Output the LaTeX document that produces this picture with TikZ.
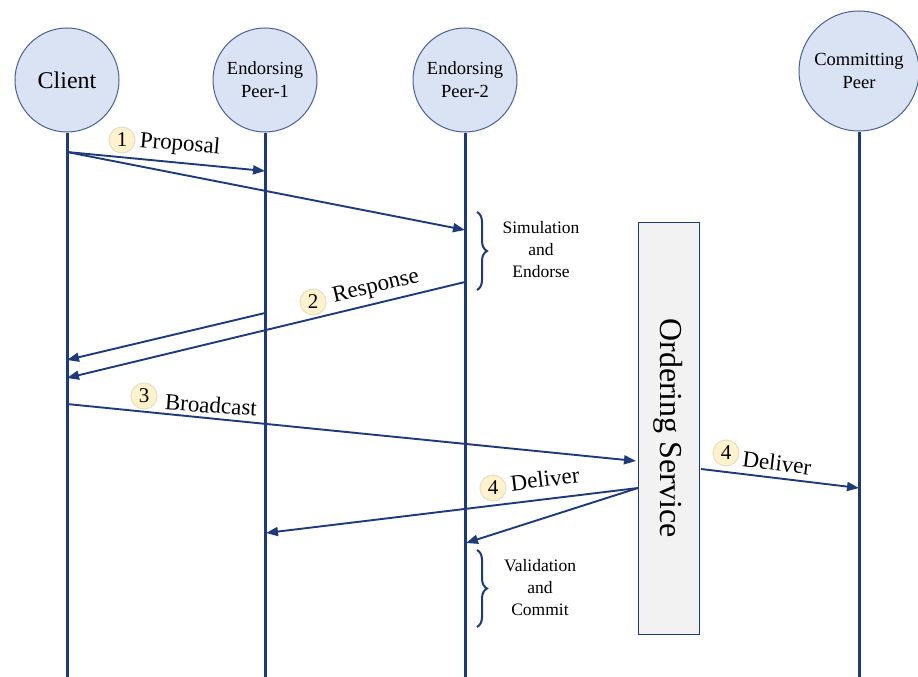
\documentclass[tikz,border=0pt]{standalone}
\usepackage{fontspec}
\setmainfont{Liberation Serif}
\usetikzlibrary{arrows.meta, decorations.pathreplacing}
\definecolor{navy}{HTML}{1F3A78}
\definecolor{actorfill}{HTML}{DAE3F3}
\definecolor{actorline}{HTML}{4A6090}
\definecolor{badgefill}{HTML}{FFF2CC}
\definecolor{badgeline}{HTML}{E6DDC4}
\definecolor{boxfill}{HTML}{F2F2F2}

\begin{document}
\begin{tikzpicture}[x=1pt,y=-1pt,
  actor/.style={circle,draw=actorline,fill=actorfill,line width=1pt,minimum size=104pt,inner sep=0pt,align=center},
  life/.style={navy,line width=3pt},
  msg/.style={navy,line width=1.9pt,-{Triangle[length=12pt,width=9pt]}},
  badge/.style={circle,fill=badgefill,draw=badgeline,line width=1pt,minimum size=26pt,inner sep=0pt,font=\fontsize{21}{21}\selectfont},
  lbl/.style={inner sep=0pt,font=\fontsize{23}{23}\selectfont},
  bracket/.style={navy,line width=2pt,decorate,decoration={brace,amplitude=10pt}},
  note/.style={align=center,font=\fontsize{17.5}{22}\selectfont}]
  \useasboundingbox (0,0) rectangle (918,677);

  % actors
  \node[actor,font=\fontsize{24}{24}\selectfont] (client) at (67,80) {Client};
  \node[actor,font=\fontsize{18.5}{23}\selectfont] (peerA) at (265,80) {Endorsing\\Peer-1};
  \node[actor,font=\fontsize{18.5}{23}\selectfont] (peerB) at (465,80) {Endorsing\\Peer-2};
  \node[actor,minimum size=120pt,font=\fontsize{18.5}{23}\selectfont] (commit) at (859,71) {Committing\\Peer};

  % life lines
  \coordinate (clientEnd) at (67,677);
  \coordinate (peerAEnd) at (265,677);
  \coordinate (peerBEnd) at (465,677);
  \coordinate (commitEnd) at (859,677);
  \draw[life] (client.south) -- (clientEnd);
  \draw[life] (peerA.south) -- (peerAEnd);
  \draw[life] (peerB.south) -- (peerBEnd);
  \draw[life] (commit.south) -- (commitEnd);

  % ordering service
  \node[draw=navy,fill=boxfill,line width=0.8pt,minimum width=61pt,minimum height=412pt,inner sep=0pt] (order) at (668.5,428) {};
  \node[rotate=-90,font=\fontsize{32}{32}\selectfont] (orderText) at (order.center) {Ordering Service};

  % message points
  \coordinate (c1) at (67,152);
  \coordinate (a1) at (265,171);
  \coordinate (b1) at (465,230);
  \coordinate (b2) at (465,282);
  \coordinate (a2) at (265,313);
  \coordinate (c2) at (67,360);
  \coordinate (c3) at (67,378);
  \coordinate (c4) at (67,404);
  \coordinate (o1) at (636,461);
  \coordinate (o2) at (701,469);
  \coordinate (p1) at (859,488);
  \coordinate (o3) at (638,488);
  \coordinate (a3) at (266,533);
  \coordinate (b3) at (466,543);

  \draw[msg] (c1) -- (a1);
  \draw[msg] (c1) -- (b1);
  \draw[msg] (b2) -- (c3);
  \draw[msg] (a2) -- (c2);
  \draw[msg] (c4) -- (o1);
  \draw[msg] (o2) -- (p1);
  \draw[msg] (o3) -- (a3);
  \draw[msg] (o3) -- (b3);

  % step labels
  \node[badge] (s1) at (122,140) {1};
  \node[lbl,rotate=-5] (s1Text) at (180,145) {Proposal};
  \node[badge] (s2) at (313,302) {2};
  \node[lbl,rotate=13.5] (s2Text) at (376,287) {Response};
  \node[badge] (s3) at (144,396) {3};
  \node[lbl,rotate=-4] (s3Text) at (211,405) {Broadcast};
  \node[badge] (s4) at (493,488) {4};
  \node[lbl,rotate=7] (s4Text) at (545,479) {Deliver};
  \node[badge] (s5) at (726,453) {4};
  \node[lbl,rotate=-7] (s5Text) at (777,463) {Deliver};

  % braces
  \coordinate (br1Top) at (477,212);
  \coordinate (br1Bot) at (477,290);
  \coordinate (br2Top) at (477,550);
  \coordinate (br2Bot) at (477,627);
  \draw[bracket] (br1Top) -- (br1Bot);
  \draw[bracket] (br2Top) -- (br2Bot);
  \node[note] (simNote) at (541,250) {Simulation\\and\\Endorse};
  \node[note] (valNote) at (540,588) {Validation\\and\\Commit};
\end{tikzpicture}
\end{document}
